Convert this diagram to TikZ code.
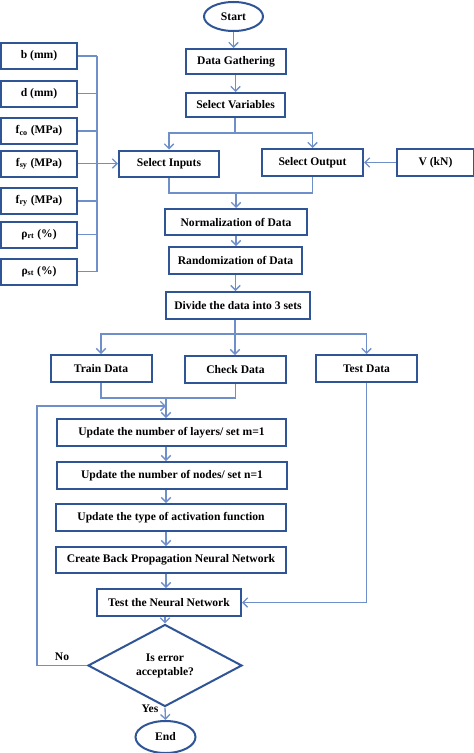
\documentclass[tikz,border=0pt]{standalone}
\usepackage{fontspec}
\setmainfont{Liberation Serif}
\usetikzlibrary{shapes.geometric,arrows.meta}
\newdimen\pxu \pxu=0.75pt
\definecolor{bord}{HTML}{2F5597}
\definecolor{lnk}{HTML}{6F8FCB}
\tikzset{
  box/.style={draw=bord,line width=1.5pt,fill=white,inner sep=0pt,align=center,
    font=\fontsize{8.7}{10.5}\selectfont\bfseries},
  term/.style={box,ellipse},
  dia/.style={box,diamond},
  conn/.style={draw=lnk,line width=1pt},
  arr/.style={conn,-{Straight Barb[length=3.5pt,width=7pt]}},
  lbl/.style={font=\fontsize{8.7}{10.5}\selectfont\bfseries,inner sep=0pt},
}
\begin{document}
\begin{tikzpicture}[x=0.75pt,y=-0.75pt]
\useasboundingbox (0,0) rectangle (474,753);
% main column
\node[term,minimum width=59*\pxu,minimum height=29*\pxu] (start) at (233.5,16.5) {Start};
\node[box,minimum width=100*\pxu,minimum height=25*\pxu] (dg) at (236,61.5) {Data Gathering};
\node[box,minimum width=99*\pxu,minimum height=24*\pxu] (sv) at (235.5,105) {Select Variables};
\node[box,minimum width=100*\pxu,minimum height=26*\pxu] (si) at (169,163.5) {Select Inputs};
\node[box,minimum width=101*\pxu,minimum height=27*\pxu] (so) at (312.5,162.5) {Select Output};
\node[box,minimum width=77*\pxu,minimum height=27*\pxu] (v) at (435.5,162.5) {V (kN)};
% left inputs
\node[box,minimum width=76*\pxu,minimum height=26*\pxu] (l1) at (39,56) {b (mm)};
\node[box,minimum width=76*\pxu,minimum height=26*\pxu] (l2) at (39,93.5) {d (mm)};
\node[box,minimum width=76*\pxu,minimum height=26*\pxu] (l3) at (39,131) {f\textsubscript{co} (MPa)};
\node[box,minimum width=76*\pxu,minimum height=26*\pxu] (l4) at (39,163.5) {f\textsubscript{sy} (MPa)};
\node[box,minimum width=76*\pxu,minimum height=26*\pxu] (l5) at (39,201) {f\textsubscript{ry} (MPa)};
\node[box,minimum width=76*\pxu,minimum height=26*\pxu] (l6) at (39,234.5) {ρ\textsubscript{rt} (\%)};
\node[box,minimum width=76*\pxu,minimum height=26*\pxu] (l7) at (39,271.5) {ρ\textsubscript{st} (\%)};
% processing
\node[box,minimum width=142*\pxu,minimum height=26*\pxu] (norm) at (236,222) {Normalization of Data};
\node[box,minimum width=133*\pxu,minimum height=27*\pxu] (rand) at (235.5,260.5) {Randomization of Data};
\node[box,minimum width=144*\pxu,minimum height=27*\pxu] (div) at (238,305.5) {Divide the data into 3 sets};
\node[box,minimum width=101*\pxu,minimum height=27*\pxu] (train) at (101,368.5) {Train Data};
\node[box,minimum width=101*\pxu,minimum height=27*\pxu] (check) at (235.5,369.5) {Check Data};
\node[box,minimum width=101*\pxu,minimum height=27*\pxu] (test) at (366.5,368.5) {Test Data};
\node[box,minimum width=229*\pxu,minimum height=27*\pxu] (ul) at (171.5,432.5) {Update the number of layers/ set m=1};
\node[box,minimum width=230*\pxu,minimum height=27*\pxu] (un) at (172,475.5) {Update the number of nodes/ set n=1};
\node[box,minimum width=230*\pxu,minimum height=27*\pxu] (ut) at (171,517.5) {Update the type of activation function};
\node[box,minimum width=230*\pxu,minimum height=26*\pxu] (bp) at (171,560) {Create Back Propagation Neural Network};
\node[box,minimum width=144*\pxu,minimum height=27*\pxu] (tn) at (169,602.5) {Test the Neural Network};
\node[dia,minimum width=154*\pxu,minimum height=69*\pxu] (err) at (165,665.5) {Is error\\acceptable?};
\node[term,minimum width=60*\pxu,minimum height=32*\pxu] (end) at (165.5,737) {End};
% coordinates
\coordinate (b1) at (235,133);
\coordinate (bus) at (97,0);
\coordinate (m1) at (235,193);
\coordinate (b2) at (235,334);
\coordinate (m2) at (166,398);
\coordinate (lp) at (37,406);
% connectors
\draw[arr] (start.south) -- (start.south |- dg.north);
\draw[arr] (dg.south -| sv.south) -- (sv.north);
\draw[conn] (sv.south -| b1) -- (b1);
\draw[arr] (b1) -| (si.north);
\draw[arr] (b1) -| (so.north);
\foreach \n in {l1,l2,l3,l4,l5,l6,l7} {\draw[conn] (\n.east) -- (\n.east -| bus);}
\draw[conn] (l1.east -| bus) -- (l7.east -| bus);
\draw[arr] (l4.east -| bus) -- (si.west);
\draw[arr] (v.west) -- (so.east);
\draw[conn] (si.south) -- (si.south |- m1) -- (so.south |- m1) -- (so.south);
\draw[arr] (norm.north |- m1) -- (norm.north);
\draw[arr] (norm.south) -- (norm.south |- rand.north);
\draw[arr] (rand.south) -- (rand.south |- div.north);
\draw[conn] (div.south -| b2) -- (b2);
\draw[arr] (b2) -| (train.north);
\draw[arr] (b2) -- (b2 |- check.north);
\draw[arr] (b2) -| (test.north);
\draw[conn] (train.south) -- (train.south |- m2) -- (check.south |- m2) -- (check.south);
\draw[arr] (m2) -- (m2 |- ul.north);
\draw[arr] (ul.south -| m2) -- (un.north -| m2);
\draw[arr] (un.south -| m2) -- (ut.north -| m2);
\draw[arr] (ut.south -| m2) -- (bp.north -| m2);
\draw[arr] (bp.south -| m2) -- (tn.north -| m2);
\draw[arr] (tn.south -| err.north) -- (err.north);
\draw[arr] (err.south) -- (end.north);
\draw[arr] (test.south) |- (tn.east);
\draw[arr] (err.west) -| (lp) -- (m2 |- lp);
\node[lbl] (no) at (62,657) {No};
\node[lbl] (yes) at (150,709) {Yes};
\end{tikzpicture}
\end{document}
